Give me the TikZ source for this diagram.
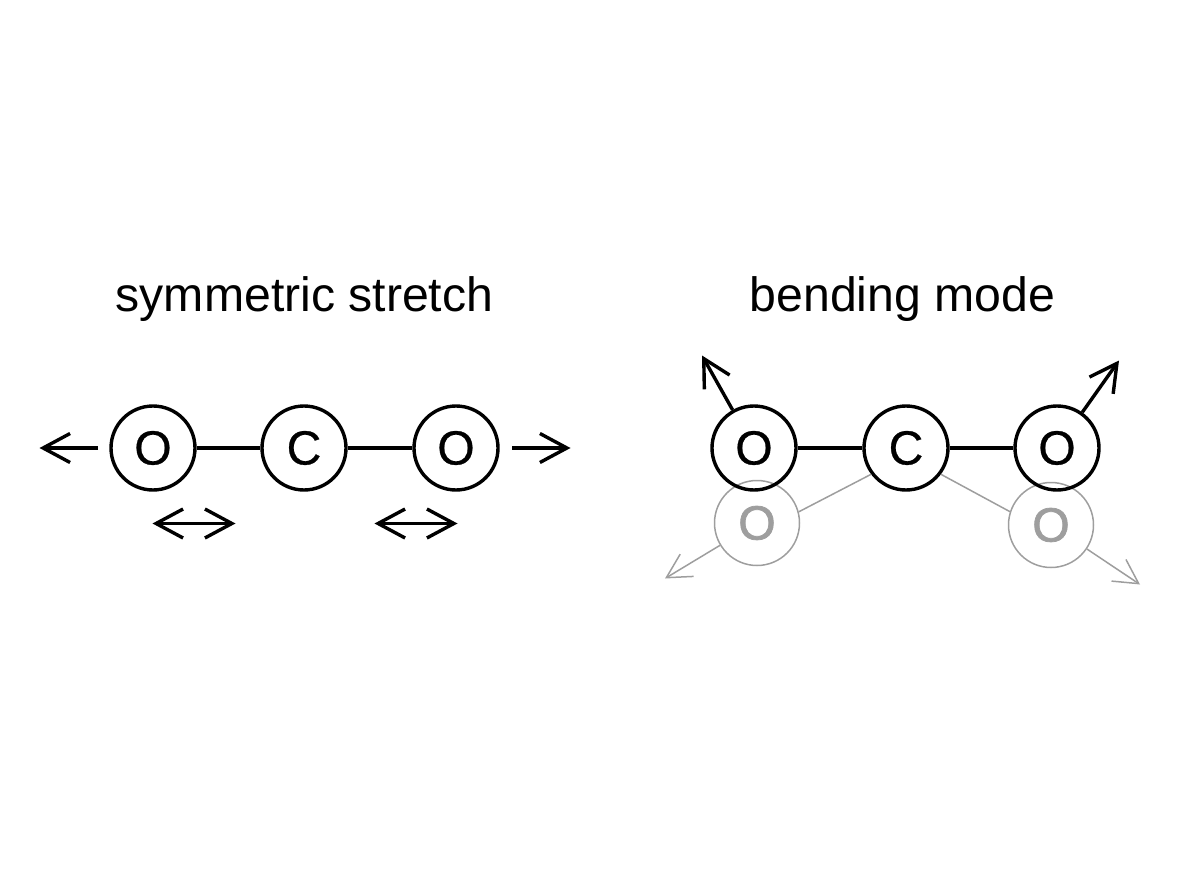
\documentclass[tikz,border=0pt]{standalone}
\usepackage{fontspec}
\setmainfont{Liberation Sans}
\newfontfamily\atomfont[FakeBold=0.6]{Liberation Sans}
\newfontfamily\ghostfont[FakeBold=1.6]{Liberation Sans}
\usetikzlibrary{arrows.meta}
\begin{document}
\begin{tikzpicture}[x=1pt,y=-1pt,
 atom/.style={circle,draw=black,line width=3.4pt,minimum size=84pt,inner sep=0pt,font=\atomfont\fontsize{48}{48}\selectfont},
 ghost/.style={circle,draw=ghostgray,line width=1.5pt,minimum size=85pt,inner sep=0pt,text=ghostgray,font=\ghostfont\fontsize{48}{48}\selectfont},
 bond/.style={draw=black,line width=3.4pt},
 gbond/.style={draw=ghostgray,line width=1.5pt},
 arr/.style={draw=black,line width=3.4pt,-{Straight Barb[length=27pt,width=29pt,line width=3.4pt]}},
 darr/.style={draw=black,line width=3.4pt,{Straight Barb[length=27pt,width=29pt,line width=3.4pt]}-{Straight Barb[length=27pt,width=29pt,line width=3.4pt]}},
 garr/.style={draw=ghostgray,line width=1.5pt,-{Straight Barb[length=24pt,width=26pt,line width=1.5pt]}},
 title/.style={font=\fontsize{48.2}{48}\selectfont}]
\definecolor{ghostgray}{gray}{0.62}
\useasboundingbox (0,0) rectangle (1200,896);
\node[title] (t1) at (304.5,299) {symmetric stretch};
\node[title] (t2) at (902.5,299) {bending mode};
\node[atom] (o1) at (153,448) {O};
\node[atom] (c1) at (304,448) {C};
\node[atom] (o2) at (456,448) {O};
\draw[bond] (o1) -- (c1);
\draw[bond] (c1) -- (o2);
\coordinate (a1s) at (98,448); \coordinate (a1e) at (39.5,448);
\coordinate (a2s) at (512,448); \coordinate (a2e) at (570.5,448);
\draw[arr] (a1s) -- (a1e);
\draw[arr] (a2s) -- (a2e);
\coordinate (d1s) at (152.5,523.5); \coordinate (d1e) at (235.5,523.5);
\coordinate (d2s) at (374.5,523.5); \coordinate (d2e) at (457.5,523.5);
\draw[darr] (d1s) -- (d1e);
\draw[darr] (d2s) -- (d2e);
\node[ghost] (go1) at (757,523) {O};
\node[ghost] (go2) at (1051,525) {O};
\node[atom] (bo1) at (754,448) {O};
\node[atom] (bc) at (906,448) {C};
\node[atom] (bo2) at (1057,448) {O};
\draw[bond] (bo1) -- (bc);
\draw[bond] (bc) -- (bo2);
\draw[gbond] (go1.15) -- (bc.217);
\draw[gbond] (go2.162) -- (bc.323);
\coordinate (b1e) at (702,355.5);
\coordinate (b2e) at (1119,360.5);
\draw[arr] (bo1) -- (b1e);
\draw[arr] (bo2) -- (b2e);
\coordinate (g1e) at (665,578.5);
\coordinate (g2e) at (1140,584.5);
\draw[garr] (go1) -- (g1e);
\draw[garr] (go2) -- (g2e);
\end{tikzpicture}
\end{document}
